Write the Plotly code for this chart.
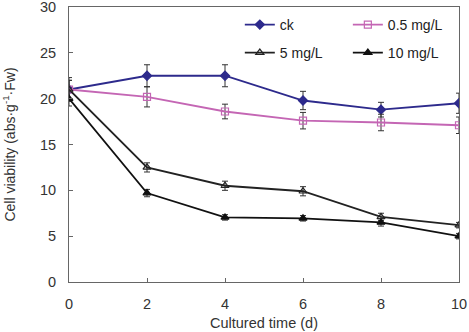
import plotly.graph_objects as go

days = [0, 2, 4, 6, 8, 10]
ck = [21.0, 22.5, 22.5, 19.8, 18.8, 19.5]
ck_err = [1.3, 1.2, 1.2, 1.0, 0.8, 1.1]
c05 = [21.0, 20.2, 18.6, 17.6, 17.4, 17.1]
c05_err = [1.0, 1.1, 0.8, 0.9, 0.9, 0.9]
c5 = [21.0, 12.5, 10.5, 9.9, 7.1, 6.2]
c5_err = [1.0, 0.5, 0.5, 0.5, 0.4, 0.3]
c10 = [20.0, 9.7, 7.05, 6.95, 6.5, 5.0]
c10_err = [0.8, 0.4, 0.3, 0.3, 0.4, 0.3]

series = [
    ("ck", ck, ck_err, "#2d2a8c", "diamond", 7, "legend"),
    ("0.5 mg/L", c05, c05_err, "#c466b4", "square-open", 7, "legend2"),
    ("5 mg/L", c5, c5_err, "#222222", "triangle-up-open", 7, "legend3"),
    ("10 mg/L", c10, c10_err, "#111111", "triangle-up", 7, "legend4"),
]

fig = go.Figure()
for name, ys, es, col, sym, sz, lg in series:
    fig.add_trace(go.Scatter(
        x=days, y=ys, name=name, mode="lines+markers", legend=lg,
        line=dict(color=col, width=1.8),
        marker=dict(symbol=sym, size=sz, color=col, line=dict(color=col, width=1.2)),
        error_y=dict(type="data", array=es, visible=True, color="#333333", thickness=1, width=3),
    ))

font = "Liberation Sans, Arial"
axis_common = dict(
    showline=True, linecolor="#666666", linewidth=1, mirror=True, automargin=False,
    ticks="inside", ticklen=4, tickcolor="#666666", showgrid=False, zeroline=False,
    ticklabeloverflow="allow",
    tickfont=dict(family=font, size=14.5, color="#333333"),
)
leg_common = dict(xanchor="left", yanchor="middle",
                  bgcolor="rgba(0,0,0,0)", itemwidth=30,
                  font=dict(family=font, size=14, color="#222222"))
fig.update_layout(
    width=469, height=332,
    margin=dict(l=69, r=10, t=7, b=50),
    paper_bgcolor="white", plot_bgcolor="white",
    showlegend=True,
    legend=dict(x=0.438, y=0.9345, **leg_common),
    legend2=dict(x=0.715, y=0.9345, **leg_common),
    legend3=dict(x=0.438, y=0.833, **leg_common),
    legend4=dict(x=0.715, y=0.833, **leg_common),
    xaxis=dict(range=[0, 10], tickvals=[0, 2, 4, 6, 8, 10], ticklabelstandoff=9,
               title=dict(text="Cultured time (d)", font=dict(family=font, size=14.5, color="#333333"), standoff=6),
               **axis_common),
    yaxis=dict(range=[-0.0001, 30.0001], tickvals=[0, 5, 10, 15, 20, 25, 30], ticklabelstandoff=9,
               title=dict(text="Cell viability (abs·g<sup>-1</sup>·Fw)", font=dict(family=font, size=14, color="#333333"), standoff=21),
               **axis_common),
)
fig.write_html("out.html")
